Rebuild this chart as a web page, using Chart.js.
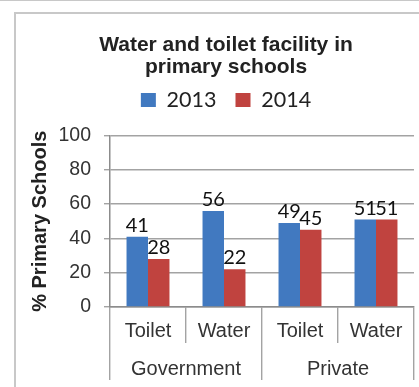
<!DOCTYPE html>
<html>
<head>
<meta charset="utf-8">
<script src="https://cdn.jsdelivr.net/npm/chart.js@4.4.1/dist/chart.umd.min.js"></script>
<style>
  html, body { margin: 0; padding: 0; background: #fff; overflow: hidden; }
  body { width: 419px; height: 387px; position: relative; }
  .rule { position: absolute; background: #c8c8c8; }
  #chart { position: absolute; left: 0; top: 0; }
</style>
</head>
<body>
<div class="rule" style="left:0;top:0;width:419px;height:1px"></div>
<div class="rule" style="left:14px;top:12px;width:405px;height:2px"></div>
<div class="rule" style="left:14px;top:12px;width:2px;height:375px"></div>
<canvas id="chart" width="419" height="387"></canvas>
<script>
// ──────── DATA ────────
const categories = ["Toilet", "Water", "Toilet", "Water"];
const groups = ["Government", "Private"];
const years = ["2013", "2014"];
const values2013 = [41, 56, 49, 51];
const values2014 = [28, 22, 45, 51];
const yTicks = [0, 20, 40, 60, 80, 100];

const BLUE = "#4179c0";
const RED = "#c0433f";
const GRID = "#a3a3a3";
const AXIS = "#8c8c8c";

Chart.defaults.font.family = "'Liberation Sans', Arial, sans-serif";
Chart.defaults.color = "#333";

// ──────── VALUE LABELS ON BARS ────────
const valueLabels = {
  id: "valueLabels",
  afterDatasetsDraw(chart) {
    const ctx = chart.ctx;
    ctx.save();
    ctx.font = "20px Lato, 'Open Sans', sans-serif";
    ctx.fillStyle = "#111";
    ctx.textAlign = "center";
    ctx.textBaseline = "alphabetic";
    chart.data.datasets.forEach((ds, i) => {
      chart.getDatasetMeta(i).data.forEach((bar, j) => {
        ctx.fillText(String(ds.data[j]), bar.x, bar.y - 5);
      });
    });
    ctx.restore();
  }
};

new Chart(document.getElementById("chart").getContext("2d"), {
  type: "bar",
  data: {
    labels: categories,
    datasets: [
      { label: years[0], data: values2013, backgroundColor: BLUE, borderWidth: 0 },
      { label: years[1], data: values2014, backgroundColor: RED, borderWidth: 0 }
    ]
  },
  options: {
    responsive: false,
    animation: false,
    barPercentage: 1,
    categoryPercentage: 0.565,
    layout: { padding: { top: 0, left: 38, right: 5, bottom: 7 } },
    plugins: {
      tooltip: { enabled: false },
      title: {
        display: true,
        text: ["Water and toilet facility in", "primary schools"],
        color: "#222",
        font: { size: 21, weight: "bold", lineHeight: 1.05 },
        padding: { top: 34.5, bottom: -8.4 }
      },
      legend: {
        display: true,
        position: "top",
        weight: 1700,
        labels: {
          boxWidth: 15,
          boxHeight: 14,
          padding: 19,
          color: "#222",
          font: { size: 21.5, family: "Lato, 'Open Sans', sans-serif" }
        }
      },
      // empty spacer between legend and plot
      subtitle: {
        display: true,
        text: "",
        font: { size: 1, lineHeight: 1 },
        padding: { top: 13.75, bottom: 0 }
      }
    },
    scales: {
      x: {
        offset: true,
        grid: { display: true, drawOnChartArea: false, offset: true, tickLength: 36, color: GRID, lineWidth: 1.4 },
        border: { display: true, color: AXIS, width: 1.5 },
        ticks: { padding: -24, font: { size: 20 }, color: "#333" },
        afterFit(scale) { scale.height = 36; }
      },
      x2: {
        type: "category",
        labels: groups,
        position: "bottom",
        offset: true,
        grid: { display: true, drawOnChartArea: false, offset: true, tickLength: 37, color: GRID, lineWidth: 1.4 },
        border: { display: false },
        ticks: { padding: -23, font: { size: 20 }, color: "#333" },
        afterFit(scale) { scale.height = 37; }
      },
      y: {
        min: yTicks[0],
        max: yTicks[yTicks.length - 1],
        ticks: { stepSize: yTicks[1] - yTicks[0], padding: 13, font: { size: 19.5 }, color: "#333" },
        grid: { color: GRID, lineWidth: 1.4, tickLength: 6 },
        border: { display: true, color: AXIS, width: 1.5 },
        title: {
          display: true,
          text: "% Primary Schools",
          color: "#222",
          font: { size: 20, weight: "bold" },
          padding: { top: -10, bottom: 0 }
        },
        afterFit(scale) { scale.width = 72; }
      }
    }
  },
  plugins: [valueLabels]
});
</script>
</body>
</html>
